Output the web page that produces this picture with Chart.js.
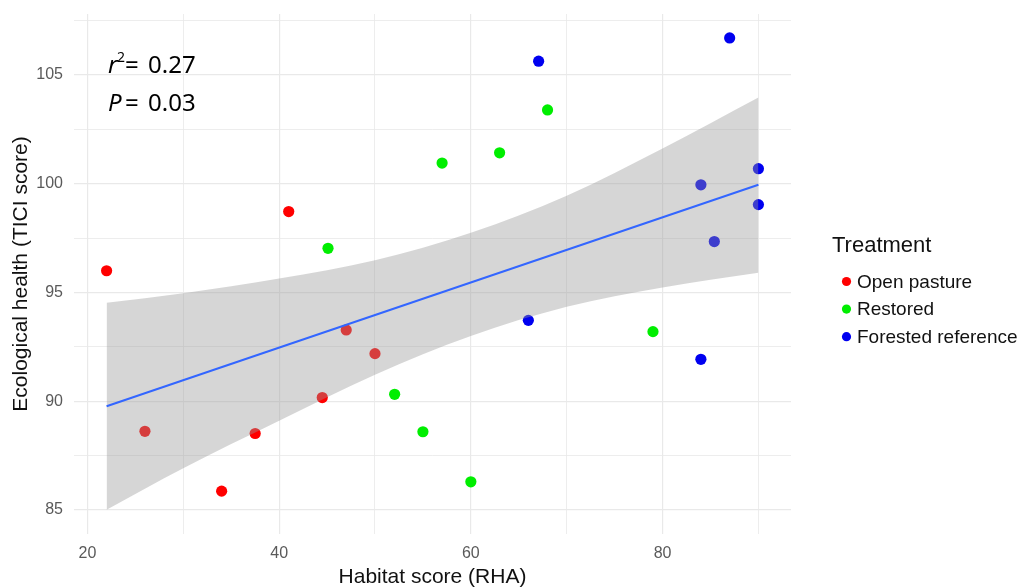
<!DOCTYPE html>
<html>
<head>
<meta charset="utf-8">
<script src="https://cdn.jsdelivr.net/npm/chart.js@4.4.1/dist/chart.umd.min.js"></script>
<style>
  html, body { margin: 0; padding: 0; background: #fff; }
  #wrap { width: 1027px; height: 588px; position: relative; }
</style>
</head>
<body>
<div id="wrap"><canvas id="myChart"></canvas></div>
<script>
// habitat score (x) vs ecological health (y), per treatment
var pastureX = [22, 26, 34, 37.5, 41, 44.5, 47, 50];
var pastureY = [96.0, 88.62, 85.87, 88.52, 98.72, 90.17, 93.28, 92.19];

var restoredX = [45.1, 52.05, 55, 57, 60, 63, 68, 79];
var restoredY = [97.03, 90.32, 88.6, 100.95, 86.3, 101.42, 103.39, 93.2];

var forestX = [67.07, 87, 84, 90, 90, 85.4, 66, 84];
var forestY = [105.63, 106.7, 99.95, 100.69, 99.04, 97.34, 93.72, 91.93];

// fitted line and its confidence band
var fitX = [22, 90];
var fitY = [89.77, 99.95];
var bandX = [22, 30, 40, 50, 60, 70, 80, 90];
var bandUpper = [94.53, 94.97, 95.64, 96.48, 97.75, 99.45, 101.62, 103.96];
var bandLower = [85.02, 86.92, 89.1, 91.22, 93.0, 94.34, 95.23, 95.91];

var treatments = ['Open pasture', 'Restored', 'Forested reference'];
var colors = ['#ff0000', '#00ee00', '#0000f0'];

function pts(xs, ys) {
    return xs.map(function (x, i) { return {x: x, y: ys[i]}; });
}

var statsPlugin = {
    id: 'statsText',
    afterDraw: function (chart) {
        var ctx = chart.ctx;
        var a = chart.chartArea;
        ctx.save();
        ctx.fillStyle = '#000';
        ctx.textBaseline = 'alphabetic';
        var x0 = a.left + 34;
        var b1 = a.top + 59, b2 = a.top + 97;
        // r^2 = 0.27
        ctx.font = 'italic 24px "Noto Sans"';
        ctx.fillText('r', x0, b1);
        ctx.font = '14px "Noto Sans"';
        ctx.fillText('2', x0 + 9, b1 - 11);
        ctx.font = '24px "Noto Sans"';
        ctx.fillText('=', x0 + 17, b1);
        ctx.fillText('0.27', x0 + 40, b1);
        // P = 0.03
        ctx.font = 'italic 24px "Noto Sans"';
        ctx.fillText('P', x0, b2);
        ctx.font = '24px "Noto Sans"';
        ctx.fillText('=', x0 + 17, b2);
        ctx.fillText('0.03', x0 + 40, b2);

        // legend
        var lx = a.right + 41;
        ctx.font = '22px "Liberation Sans"';
        ctx.fillStyle = '#111';
        ctx.fillText('Treatment', lx, 252);
        ctx.font = '19px "Liberation Sans"';
        ctx.textBaseline = 'middle';
        treatments.forEach(function (t, i) {
            var y = 281.5 + i * 27.6;
            ctx.fillStyle = colors[i];
            ctx.beginPath();
            ctx.arc(lx + 14.5, y, 4.6, 0, Math.PI * 2);
            ctx.fill();
            ctx.fillStyle = '#111';
            ctx.fillText(t, lx + 25, y + 1);
        });
        ctx.restore();
    }
};

function gridColor(ctx) {
    return '#e9e9e9';
}

var ctx = document.getElementById('myChart').getContext('2d');
var chart = new Chart(ctx, {
    type: 'scatter',
    data: {
        datasets: [{
            type: 'line',
            label: 'fit',
            data: pts(fitX, fitY),
            borderColor: '#3366ff',
            borderWidth: 2,
            pointRadius: 0,
            fill: false,
            order: 0
        }, {
            type: 'line',
            label: 'upper',
            data: pts(bandX, bandUpper),
            borderWidth: 0,
            borderColor: 'rgba(0,0,0,0)',
            backgroundColor: 'rgba(153,153,153,0.4)',
            pointRadius: 0,
            cubicInterpolationMode: 'monotone',
            fill: '+1',
            order: 1
        }, {
            type: 'line',
            label: 'lower',
            data: pts(bandX, bandLower),
            borderWidth: 0,
            borderColor: 'rgba(0,0,0,0)',
            pointRadius: 0,
            cubicInterpolationMode: 'monotone',
            fill: false,
            order: 1
        }, {
            label: treatments[0],
            data: pts(pastureX, pastureY),
            backgroundColor: colors[0],
            borderWidth: 0,
            pointRadius: 5.6,
            order: 2
        }, {
            label: treatments[1],
            data: pts(restoredX, restoredY),
            backgroundColor: colors[1],
            borderWidth: 0,
            pointRadius: 5.6,
            order: 2
        }, {
            label: treatments[2],
            data: pts(forestX, forestY),
            backgroundColor: colors[2],
            borderWidth: 0,
            pointRadius: 5.6,
            order: 2
        }]
    },
    options: {
        responsive: true,
        maintainAspectRatio: false,
        animation: false,
        layout: { padding: { top: 14, right: 236, left: 0, bottom: 0 } },
        plugins: {
            legend: { display: false },
            tooltip: { enabled: false }
        },
        scales: {
            x: {
                type: 'linear',
                min: 18.6,
                max: 93.4,
                border: { display: false },
                grid: {
                    drawTicks: false,
                    color: gridColor,
                    lineWidth: function (c) { return c.tick && c.tick.value % 20 === 0 ? 1.2 : 0.8; }
                },
                ticks: {
                    stepSize: 10,
                    includeBounds: false,
                    padding: 10,
                    color: '#5a5a5a',
                    font: { family: '"Liberation Sans"', size: 16 },
                    callback: function (v) { return v % 20 === 0 ? v : ''; }
                },
                title: {
                    display: true,
                    text: 'Habitat score (RHA)',
                    color: '#111',
                    padding: { top: 0, bottom: 0 },
                    font: { family: '"Liberation Sans"', size: 21, lineHeight: 1.0 }
                },
                afterFit: function (scale) {
                    scale.height = 54;
                    scale.paddingLeft = 0;
                    scale.paddingRight = 0;
                }
            },
            y: {
                min: 83.9,
                max: 107.8,
                border: { display: false },
                grid: {
                    drawTicks: false,
                    color: gridColor,
                    lineWidth: function (c) { return c.tick && c.tick.value % 5 === 0 ? 1.2 : 0.8; }
                },
                ticks: {
                    stepSize: 2.5,
                    includeBounds: false,
                    padding: 11,
                    color: '#5a5a5a',
                    font: { family: '"Liberation Sans"', size: 16 },
                    callback: function (v) { return v % 5 === 0 ? v : ''; }
                },
                title: {
                    display: true,
                    text: 'Ecological health (TICI score)',
                    color: '#111',
                    padding: { top: 11, bottom: 0 },
                    font: { family: '"Liberation Sans"', size: 21, lineHeight: 1.0 }
                },
                afterFit: function (scale) {
                    scale.width = 74;
                    scale.paddingTop = 0;
                    scale.paddingBottom = 0;
                }
            }
        }
    },
    plugins: [statsPlugin]
});
</script>
</body>
</html>
